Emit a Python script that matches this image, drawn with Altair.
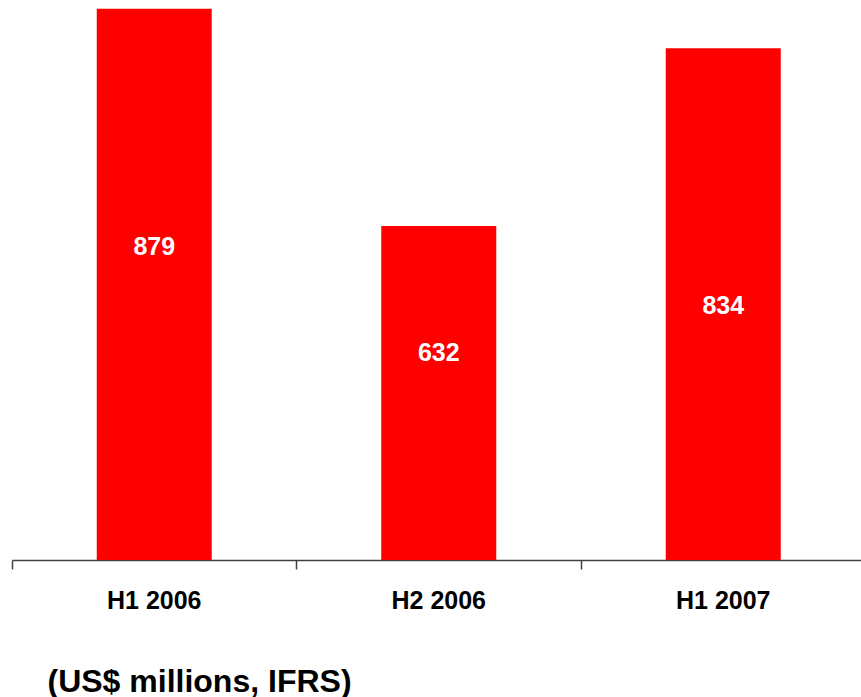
import altair as alt
import pandas as pd

periods = ["H1 2006", "H2 2006", "H1 2007"]
values = [879, 632, 834]
label_at = [608, 487, 541]   # value-axis position of each bar's label
axis_floor = 252
axis_top = 889

df = pd.DataFrame({"period": periods, "value": values, "label_at": label_at,
                   "txt": [str(v) for v in values]})

FONT = "Liberation Sans"

x = alt.X("period:N", sort=periods,
          scale=alt.Scale(paddingInner=0, paddingOuter=0, range=[0, 853.5]),
          axis=alt.Axis(title="(US$ millions, IFRS)", labelAngle=0, bandPosition=0,
                        grid=False,
                        labelFont=FONT, labelFontSize=25, labelFontWeight="bold",
                        labelColor="black", labelPadding=19,
                        domainColor="#404040", tickColor="#404040", tickSize=9,
                        domainWidth=1.5, tickWidth=1.5,
                        titleFont=FONT, titleFontSize=32, titleFontWeight="bold",
                        titleColor="black", titleAnchor="start", titleAlign="left",
                        titleX=35, titleY=121, titleBaseline="middle"))

y_scale = alt.Scale(domain=[axis_floor, axis_top], zero=False, nice=False)

bars = alt.Chart(df).mark_bar(width=115, color="#FF0000").encode(
    x=x,
    y=alt.Y("value:Q", scale=y_scale, axis=None),
    y2=alt.datum(axis_floor),
)

labels = alt.Chart(df).mark_text(color="white", font=FONT, fontSize=25,
                                 fontWeight="bold", baseline="middle").encode(
    x=alt.X("period:N", sort=periods),
    y=alt.Y("label_at:Q", scale=y_scale, axis=None),
    text="txt:N",
)

chart = (bars + labels).properties(
    width=849, height=560,
    autosize=alt.AutoSizeParams(type="none"),
    padding={"left": 12, "top": 0, "right": 0, "bottom": 137},
    view=alt.ViewBackground(stroke="white", strokeWidth=0),
).configure_view(stroke="white", strokeWidth=0).configure(background="white")

chart.save("out.html", embed_options={"renderer": "svg", "actions": False})
